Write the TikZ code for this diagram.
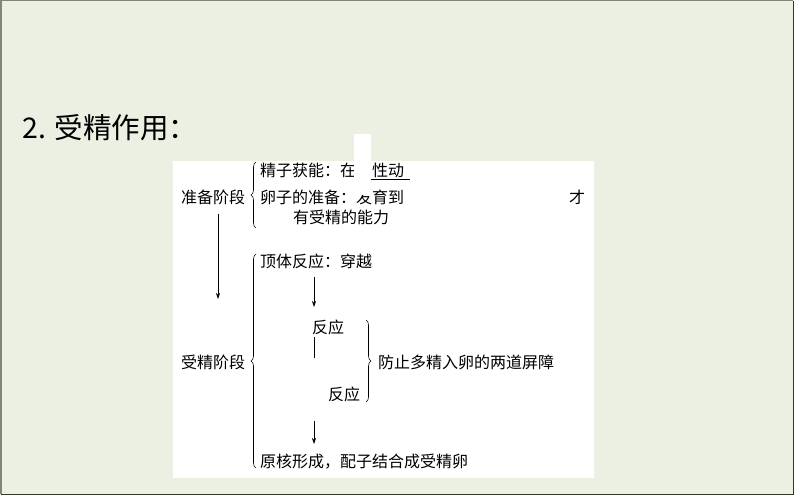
\documentclass[tikz,border=0pt]{standalone}
\usepackage{fontspec}
\newfontfamily\cjk{Noto Sans CJK SC}
\usetikzlibrary{decorations.pathreplacing,arrows.meta}
\definecolor{bg}{RGB}{236,240,226}
\definecolor{frameA}{RGB}{128,134,118}
\definecolor{frameB}{RGB}{50,54,46}
\begin{document}
\begin{tikzpicture}[x=1pt,y=-1pt,
  txt/.style={font=\cjk\fontsize{16}{16}\selectfont, inner sep=0pt, anchor=west},
  ttl/.style={font=\cjk\fontsize{28.5}{28.5}\selectfont, inner sep=0pt, anchor=west},
  arr/.style={line width=0.6pt, -{Stealth[length=6pt,width=4pt]}},
  ln/.style={line width=0.6pt},
  brc/.style={decorate, decoration={brace, amplitude=5pt}, line width=0.6pt},
  patch/.style={fill=white, draw=none}]
\useasboundingbox (0,0) rectangle (794,495);
% background and frame
\fill[bg] (0,0) rectangle (794,495);
\draw[line width=1.5pt, frameA] (0.75,494.25) -- (0.75,0.75) -- (793.25,0.75);
\draw[line width=1.5pt, frameB] (0.75,494.25) -- (793.25,494.25) -- (793.25,0.75);
% white panel
\fill[white] (173,161) rectangle (594,478);
% title
\node[ttl] (title) at (22,128) {2.\hspace{9pt}受精作用：};
% preparation stage
\node[txt] (prep) at (181,197) {准备阶段};
\node[txt] (sp) at (260,170) {精子获能：在};
\node[txt] (spb) at (372,170) {性动};
\node[txt] (egg) at (260,197) {卵子的准备：发育到};
\node[txt] (cai) at (569,197) {才};
\node[txt] (abil) at (293,217) {有受精的能力};
\coordinate (ul1) at (370,179);
\coordinate (ul2) at (410,179);
\draw[ln] (ul1) -- (ul2);
\coordinate (bA1) at (256,228);
\coordinate (bA2) at (256,162);
\draw[brc] (bA1) -- (bA2);
% cover patch
\fill[patch] (354,134) rectangle (371,195);
% arrow between stages
\coordinate (a1s) at (218,214);
\coordinate (a1e) at (218,299);
\draw[arr] (a1s) -- (a1e);
% fertilization stage
\node[txt] (fert) at (181,362) {受精阶段};
\coordinate (bB1) at (256,468);
\coordinate (bB2) at (256,254);
\draw[brc] (bB1) -- (bB2);
\node[txt] (acro) at (260,261) {顶体反应：穿越};
\coordinate (a2s) at (314,277);
\coordinate (a2e) at (314,307);
\draw[arr] (a2s) -- (a2e);
\node[txt] (r1) at (312,327) {反应};
\coordinate (v1) at (314,337);
\coordinate (v2) at (314,358);
\draw[ln] (v1) -- (v2);
\node[txt] (r2) at (328,394) {反应};
\coordinate (bC1) at (366,320);
\coordinate (bC2) at (366,402);
\draw[brc] (bC1) -- (bC2);
\node[txt] (barrier) at (378,362) {防止多精入卵的两道屏障};
\coordinate (a3s) at (314,421);
\coordinate (a3e) at (314,444);
\draw[arr] (a3s) -- (a3e);
\node[txt] (zyg) at (260,462) {原核形成，配子结合成受精卵};
\end{tikzpicture}
\end{document}
